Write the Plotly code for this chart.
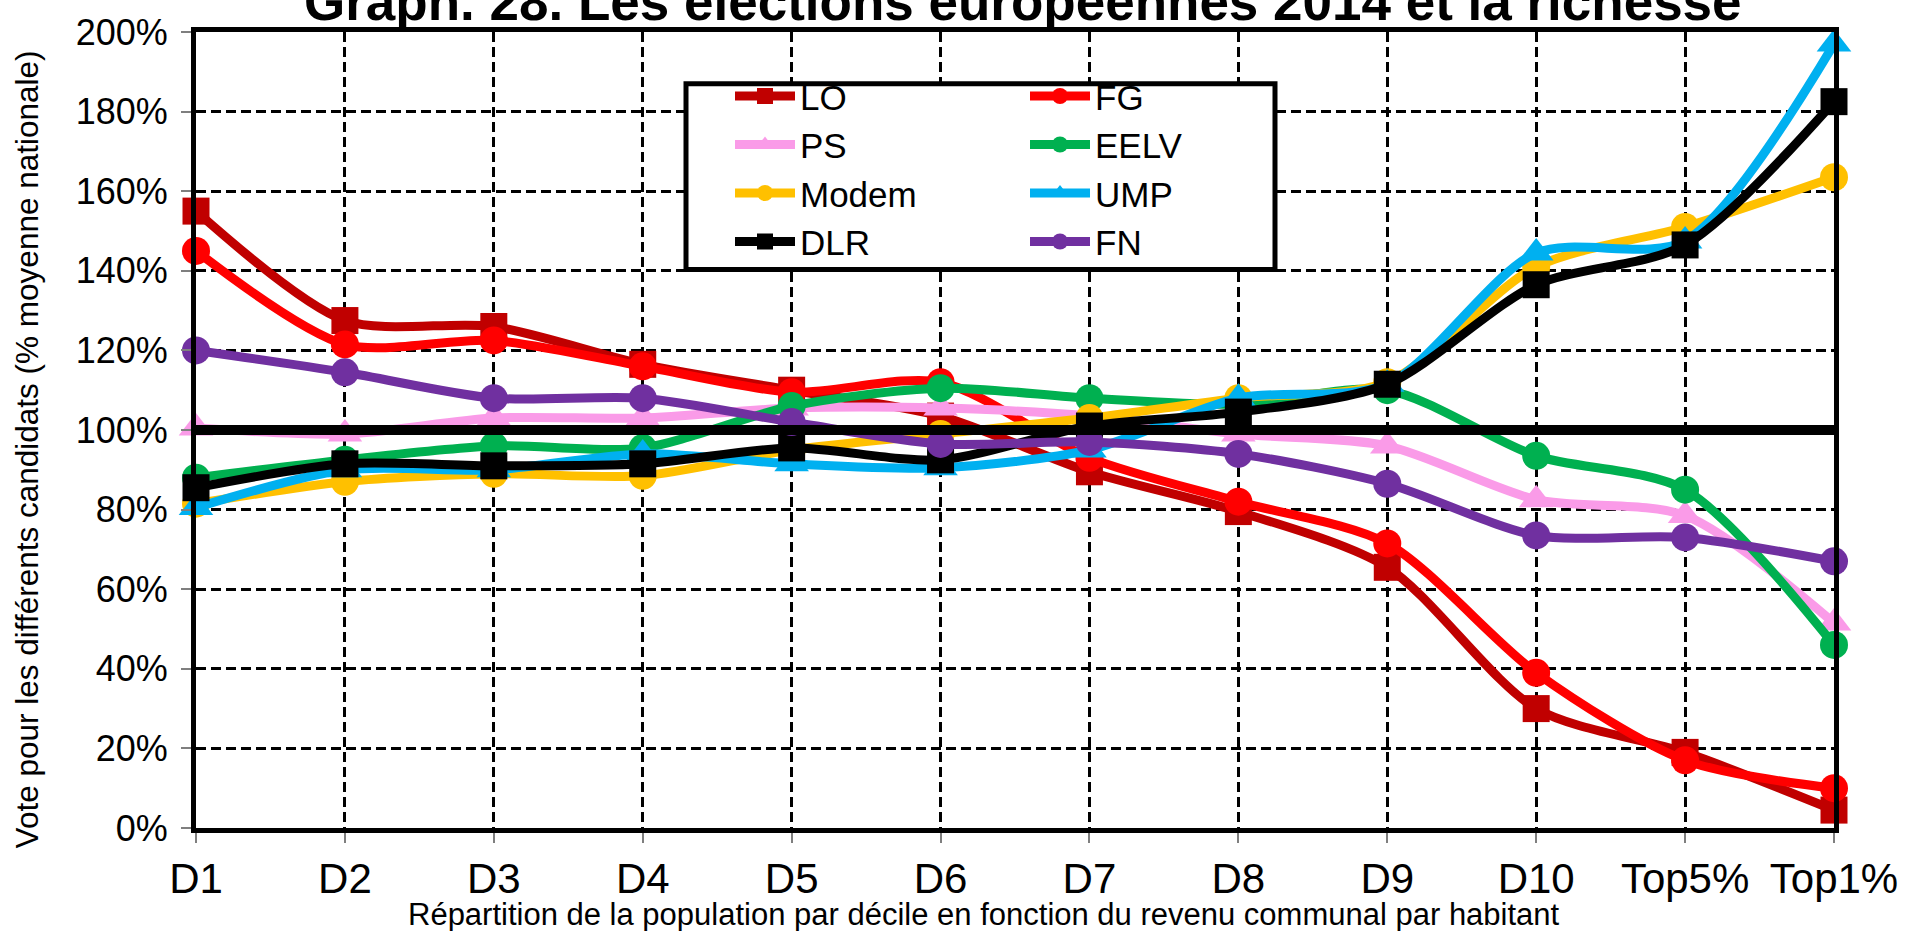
import plotly.graph_objects as go

# ---------------- data ----------------
categories = ["D1", "D2", "D3", "D4", "D5", "D6", "D7", "D8", "D9", "D10", "Top5%", "Top1%"]
positions = [0, 1, 2, 3, 4, 5, 6, 7, 8, 9, 10, 11]

LO = [155, 127.5, 126, 116.5, 110, 103.5, 89.5, 79.5, 65.5, 30, 19, 4.5]
FG = [145, 121.5, 122.5, 116, 109.5, 112, 93, 82, 71.5, 39, 17, 10]
PS = [100.5, 99, 103, 103, 105.5, 105.5, 103.5, 99, 96, 82.5, 78.5, 51.5]
EELV = [88, 92.5, 96, 95.5, 106, 110.5, 108, 106.5, 110, 93.5, 85, 46]
Modem = [81.5, 87, 89, 88.5, 95, 99, 103, 108, 112, 141, 151, 163.5]
UMP = [80.5, 90, 90, 94, 91.5, 90.5, 95, 108, 111.5, 144.5, 147.5, 197]
DLR = [85.5, 91.5, 91, 91.5, 95.5, 92.5, 101, 104.5, 111.5, 136.5, 146.5, 182.5]
FN = [120, 114.5, 108, 108, 102, 96.5, 97, 94, 86.5, 73.5, 73, 67]
reference_line = [100, 100, 100, 100, 100, 100, 100, 100, 100, 100, 100, 100]

y_tickvals = [0, 20, 40, 60, 80, 100, 120, 140, 160, 180, 200]
y_ticktext = ["0%", "20%", "40%", "60%", "80%", "100%", "120%", "140%", "160%", "180%", "200%"]

title_text = "Graph. 28. Les élections européennes 2014 et la richesse"
x_title = "Répartition de la population par décile en fonction du revenu communal par habitant"
y_title = "Vote pour les différents candidats (% moyenne nationale)"

# ---------------- layout geometry (pixels) ----------------
W, H = 1921, 931
L, R, T, B = 196, 1834, 27, 828
PW, PH = R - L, B - T


def px(x):
    return (x - L) / PW


def py(y):
    return (B - y) / PH


FONT = "Liberation Sans, Arial, sans-serif"

series = [
    ("LO", LO, "#C00000", "square", 27, "legend"),
    ("FG", FG, "#FF0000", "circle", 28, "legend2"),
    ("PS", PS, "#FA9BE8", "triangle-up", 30, "legend"),
    ("EELV", EELV, "#00B050", "circle", 28, "legend2"),
    ("Modem", Modem, "#FFC000", "circle", 28, "legend"),
    ("UMP", UMP, "#00B0F0", "triangle-up", 30, "legend2"),
    ("DLR", DLR, "#000000", "square", 27, "legend"),
    ("FN", FN, "#7030A0", "circle", 28, "legend2"),
]

fig = go.Figure()
for name, vals, color, sym, size, lg in series:
    fig.add_trace(go.Scatter(
        x=positions, y=vals, name=name, mode="lines+markers",
        line=dict(color=color, width=9, shape="spline", smoothing=0.8),
        marker=dict(color=color, symbol=sym, size=size, line=dict(width=0)),
        cliponaxis=False, legend=lg, hoverinfo="x+y+name",
    ))

fig.add_trace(go.Scatter(
    x=positions, y=reference_line, mode="lines", showlegend=False,
    line=dict(color="#000000", width=10), hoverinfo="skip",
))

grid_dash = "10px,5px"
fig.update_xaxes(
    range=[0, 11], tickmode="array", tickvals=positions, ticktext=categories,
    showgrid=True, gridcolor="#000000", gridwidth=2.5, griddash=grid_dash,
    showline=True, linecolor="#000000", linewidth=5, mirror=True,
    ticks="outside", ticklen=10, tickwidth=1.5, tickcolor="#7f7f7f",
    tickfont=dict(family=FONT, size=42, color="#000000"),
    ticklabelstandoff=0, zeroline=False, fixedrange=True,
)
fig.update_yaxes(
    range=[0, 200], tickmode="array", tickvals=y_tickvals, ticktext=y_ticktext,
    showgrid=True, gridcolor="#000000", gridwidth=2.5, griddash=grid_dash,
    showline=True, linecolor="#000000", linewidth=5, mirror=True,
    ticks="outside", ticklen=10, tickwidth=1.5, tickcolor="#7f7f7f",
    tickfont=dict(family=FONT, size=36, color="#000000"),
    ticklabelstandoff=6, zeroline=False, fixedrange=True,
)

legend_common = dict(
    font=dict(family=FONT, size=35, color="#000000"),
    bgcolor="rgba(255,255,255,0)", borderwidth=0, itemwidth=60,
    orientation="v", xanchor="left", yanchor="top", tracegroupgap=0,
    itemclick=False, itemdoubleclick=False,
)

fig.update_layout(
    width=W, height=H, autosize=False,
    margin=dict(l=L, r=W - R, t=T, b=H - B, pad=0),
    plot_bgcolor="#FFFFFF", paper_bgcolor="#FFFFFF",
    font=dict(family=FONT, color="#000000"),
    legend=dict(x=px(730), y=py(62), **legend_common),
    legend2=dict(x=px(1025), y=py(62), **legend_common),
    shapes=[dict(
        type="rect", xref="paper", yref="paper",
        x0=px(686), x1=px(1275), y0=py(79), y1=py(266),
        line=dict(color="#000000", width=5), fillcolor="#FFFFFF", layer="above",
    )],
    annotations=[
        dict(text=title_text, xref="paper", yref="paper", x=px(1023), y=py(-4),
             xanchor="center", yanchor="middle", showarrow=False,
             font=dict(family=FONT, size=53, color="#000000", weight="bold")),
        dict(text=x_title, xref="paper", yref="paper", x=px(984), y=py(915),
             xanchor="center", yanchor="middle", showarrow=False,
             font=dict(family=FONT, size=31, color="#000000")),
        dict(text=y_title, xref="paper", yref="paper", x=px(27), y=py(447),
             xanchor="center", yanchor="middle", showarrow=False, textangle=-90,
             font=dict(family=FONT, size=31.5, color="#000000")),
    ],
    showlegend=True,
)

fig.write_html(
    "out.html",
    config={"displayModeBar": False},
    post_script="document.body.style.margin='0';document.body.style.overflow='hidden';",
)
